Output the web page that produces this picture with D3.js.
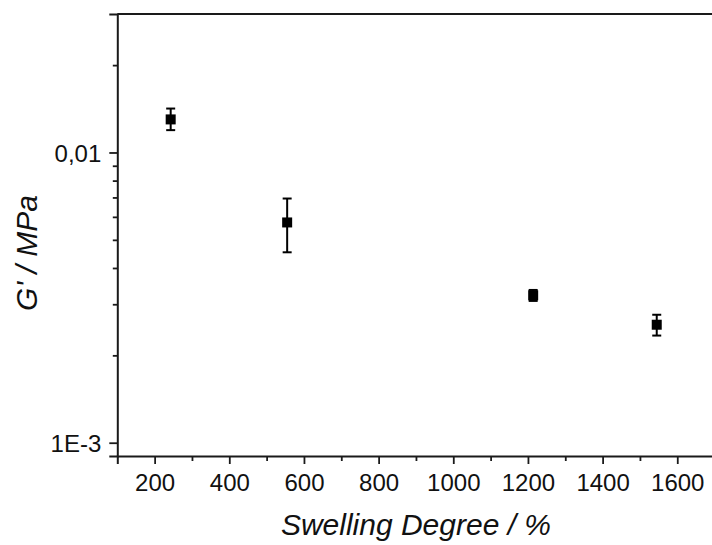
<!DOCTYPE html>
<html>
<head>
<meta charset="utf-8">
<script src="https://cdn.jsdelivr.net/npm/d3@7"></script>
<style>
  body { margin: 0; background: #fff; }
  svg { display: block; font-family: "Liberation Sans", Arial, sans-serif; }
</style>
</head>
<body>
<div id="chart"></div>
<script>
// Swelling degree (%) vs storage modulus G' (MPa)
const swelling = [243, 555, 1214, 1545];
const gPrime   = [0.0130, 0.00574, 0.00322, 0.00255];
const errHigh  = [0.01417, 0.00694, 0.00336, 0.00276];
const errLow   = [0.01194, 0.00453, 0.00308, 0.00234];

const xTicks = [200, 400, 600, 800, 1000, 1200, 1400, 1600];
const xMinor = [300, 500, 700, 900, 1100, 1300, 1500, 1700];
const yTicks = [0.01, 0.001];
const yTickLabels = ["0,01", "1E-3"];
const yMinor = [0.002, 0.003, 0.004, 0.005, 0.006, 0.007, 0.008, 0.009, 0.02];

const data = swelling.map((s, i) => ({ x: s, y: gPrime[i], hi: errHigh[i], lo: errLow[i] }));

const W = 712, H = 545;
const margin = { top: 14, left: 117.3, bottom: 89 };
const plotW = 597.3;   // runs past the right edge, like the original crop
const plotH = H - margin.top - margin.bottom;

const svg = d3.select("#chart").append("svg")
    .attr("width", W)
    .attr("height", H);

const x = d3.scaleLinear()
    .domain([100, 1700])
    .range([margin.left, margin.left + plotW]);
const y = d3.scaleLog()
    .domain([0.0009, 0.03])
    .range([margin.top + plotH, margin.top]);

const axisColor = "#1a1a1a";

// bottom axis, major ticks
const gx = svg.append("g")
    .attr("transform", `translate(0,${margin.top + plotH})`)
    .call(d3.axisBottom(x).tickValues(xTicks).tickSize(8).tickPadding(5).tickFormat(d3.format("d")));
// minor ticks
svg.append("g")
    .attr("transform", `translate(0,${margin.top + plotH})`)
    .call(d3.axisBottom(x).tickValues(xMinor).tickSize(5).tickFormat(""))
    .select(".domain").remove();

// left axis
const gy = svg.append("g")
    .attr("transform", `translate(${margin.left},0)`)
    .call(d3.axisLeft(y).tickValues(yTicks).tickSize(8).tickPadding(8)
        .tickFormat((d, i) => yTickLabels[i]));
svg.append("g")
    .attr("transform", `translate(${margin.left},0)`)
    .call(d3.axisLeft(y).tickValues(yMinor).tickSize(4.5).tickFormat(""))
    .select(".domain").remove();

svg.selectAll(".domain").attr("stroke-width", 2);
svg.selectAll(".tick line").attr("stroke", axisColor).attr("stroke-width", 1.8);
svg.selectAll(".domain").attr("stroke", axisColor);
svg.selectAll(".tick text")
    .attr("fill", "#111")
    .style("font-size", "24px")
    .style("font-family", "'Liberation Sans', Arial, sans-serif");
gx.selectAll(".tick text").attr("dy", "0.9em");
gy.selectAll(".tick text").attr("dy", "0.36em");

// top frame line
svg.append("line")
    .attr("x1", margin.left).attr("x2", margin.left + plotW)
    .attr("y1", margin.top).attr("y2", margin.top)
    .attr("stroke", axisColor)
    .attr("stroke-width", 2);

// error bars
const eb = svg.append("g");
eb.selectAll("line.v").data(data).enter().append("line")
    .attr("x1", d => x(d.x)).attr("x2", d => x(d.x))
    .attr("y1", d => y(d.hi)).attr("y2", d => y(d.lo))
    .attr("stroke", "#000").attr("stroke-width", 2);
eb.selectAll("line.top").data(data).enter().append("line")
    .attr("x1", d => x(d.x) - 4.5).attr("x2", d => x(d.x) + 4.5)
    .attr("y1", d => y(d.hi)).attr("y2", d => y(d.hi))
    .attr("stroke", "#000").attr("stroke-width", 2);
eb.selectAll("line.bot").data(data).enter().append("line")
    .attr("x1", d => x(d.x) - 4.5).attr("x2", d => x(d.x) + 4.5)
    .attr("y1", d => y(d.lo)).attr("y2", d => y(d.lo))
    .attr("stroke", "#000").attr("stroke-width", 2);

// square markers
svg.append("g").selectAll("rect").data(data).enter().append("rect")
    .attr("x", d => x(d.x) - 5)
    .attr("y", d => y(d.y) - 5)
    .attr("width", 10)
    .attr("height", 10)
    .attr("fill", "#000");

// axis titles
svg.append("text")
    .attr("x", margin.left + plotW / 2)
    .attr("y", 535)
    .attr("text-anchor", "middle")
    .style("font-size", "30px")
    .style("font-style", "italic")
    .attr("fill", "#111")
    .text("Swelling Degree / %");

svg.append("text")
    .attr("transform", `translate(37,253) rotate(-90)`)
    .attr("text-anchor", "middle")
    .style("font-size", "30px")
    .style("font-style", "italic")
    .attr("fill", "#111")
    .text("G' / MPa");
</script>
</body>
</html>
